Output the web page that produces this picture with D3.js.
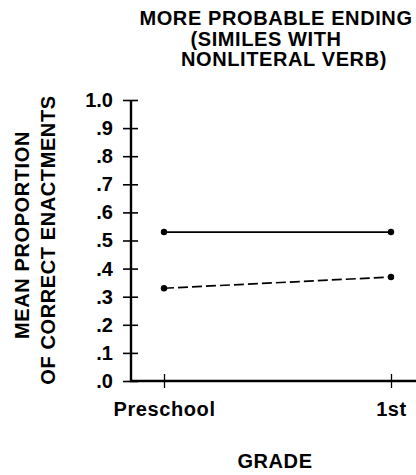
<!DOCTYPE html>
<html>
<head>
<meta charset="utf-8">
<script src="https://cdn.jsdelivr.net/npm/d3@7"></script>
<style>
  body { margin: 0; background: #fff; }
  svg text { font-family: "Liberation Sans", Arial, Helvetica, sans-serif; font-weight: bold; fill: #000; }
</style>
</head>
<body>
<div id="chart"></div>
<script>
// Chart data
const grades = ["Preschool", "1st"];
const solidSeries = [0.53, 0.53];
const dashedSeries = [0.33, 0.37];
const yTickValues = [0, 0.1, 0.2, 0.3, 0.4, 0.5, 0.6, 0.7, 0.8, 0.9, 1.0];
const yTickLabels = [".0", ".1", ".2", ".3", ".4", ".5", ".6", ".7", ".8", ".9", "1.0"];
const titleLines = ["MORE PROBABLE ENDING", "(SIMILES WITH", "NONLITERAL VERB)"];
const yTitleLines = ["MEAN PROPORTION", "OF CORRECT ENACTMENTS"];
const xTitle = "GRADE";

const width = 416, height = 475;
const axisX = 131, axisY = 381, plotTop = 100;

const svg = d3.select("#chart").append("svg")
  .attr("width", width)
  .attr("height", height);

// Scales
const x = d3.scalePoint().domain(grades).range([164, 391]);
const y = d3.scaleLinear().domain([0, 1]).range([axisY, plotTop]);

// Title
const titleX = [276, 266, 284];
svg.append("g").selectAll("text")
  .data(titleLines)
  .enter().append("text")
  .attr("x", (d, i) => titleX[i])
  .attr("y", (d, i) => 25 + i * 20.5)
  .attr("text-anchor", "middle")
  .style("font-size", "20px")
  .style("letter-spacing", "0.6px")
  .text(d => d);

// Y axis
const yAxis = svg.append("g")
  .attr("transform", `translate(${axisX},0)`)
  .call(d3.axisLeft(y)
    .tickValues(yTickValues)
    .tickSize(8)
    .tickPadding(10)
    .tickFormat((d, i) => yTickLabels[i]));
yAxis.select(".domain").remove();
yAxis.selectAll(".tick line")
  .attr("x1", 7)
  .attr("stroke", "#000")
  .attr("stroke-width", 1.6);
yAxis.selectAll(".tick text")
  .style("font-size", "20px")
  .attr("fill", "#000");

svg.append("line")
  .attr("x1", axisX).attr("x2", axisX)
  .attr("y1", y(1)).attr("y2", axisY + 1)
  .attr("stroke", "#000")
  .attr("stroke-width", 2.4);

// X axis
const xAxis = svg.append("g")
  .attr("transform", `translate(0,${axisY})`)
  .call(d3.axisBottom(x).tickSize(7).tickPadding(14));
xAxis.select(".domain").remove();
xAxis.selectAll(".tick line")
  .attr("y1", -7)
  .attr("stroke", "#000")
  .attr("stroke-width", 1.3);
xAxis.selectAll(".tick text")
  .style("font-size", "20px")
  .style("letter-spacing", "0.6px")
  .attr("fill", "#000");

svg.append("line")
  .attr("x1", axisX - 1).attr("x2", width)
  .attr("y1", axisY).attr("y2", axisY)
  .attr("stroke", "#000")
  .attr("stroke-width", 2.4);

// Axis titles
svg.append("text")
  .attr("x", 275)
  .attr("y", 468)
  .attr("text-anchor", "middle")
  .style("font-size", "20px")
  .style("letter-spacing", "0.6px")
  .text(xTitle);

const yTitleX = [29, 55], yTitleY = [235, 240];
svg.append("g").selectAll("text")
  .data(yTitleLines)
  .enter().append("text")
  .attr("transform", (d, i) => `translate(${yTitleX[i]},${yTitleY[i]}) rotate(-90)`)
  .attr("text-anchor", "middle")
  .style("font-size", "20px")
  .style("letter-spacing", "0.6px")
  .text(d => d);

// Series lines
const line = d3.line()
  .x((d, i) => x(grades[i]))
  .y(d => y(d));

const series = [
  { values: solidSeries, dash: null },
  { values: dashedSeries, dash: "10,4" }
];

series.forEach(s => {
  svg.append("path")
    .datum(s.values)
    .attr("d", line)
    .attr("fill", "none")
    .attr("stroke", "#000")
    .attr("stroke-width", 1.7)
    .attr("stroke-dasharray", s.dash);

  svg.append("g").selectAll("circle")
    .data(s.values)
    .enter().append("circle")
    .attr("cx", (d, i) => x(grades[i]))
    .attr("cy", d => y(d))
    .attr("r", 3.2)
    .attr("fill", "#000");
});
</script>
</body>
</html>
